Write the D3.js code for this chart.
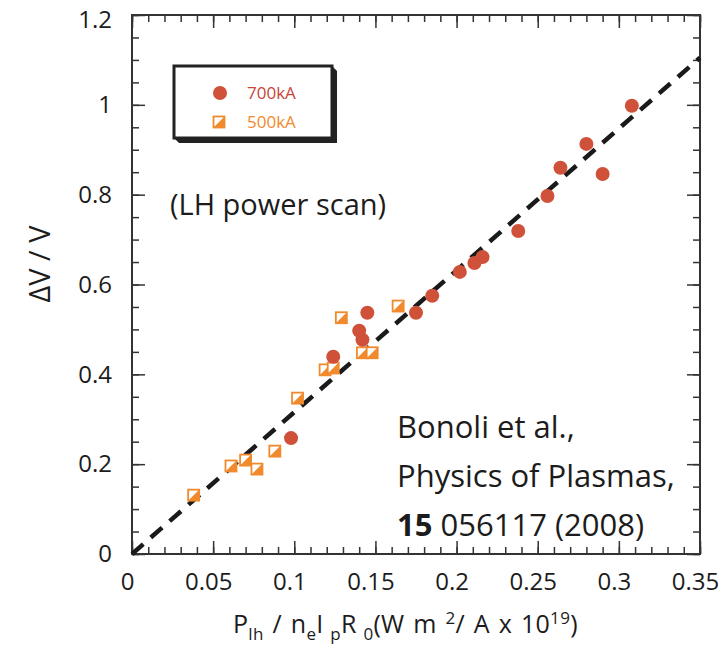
<!DOCTYPE html>
<html>
<head>
<meta charset="utf-8">
<script src="https://cdn.jsdelivr.net/npm/d3@7"></script>
<style>
  html, body { margin: 0; padding: 0; background: #fff; }
  svg { display: block; font-family: "Open Sans", "Noto Sans", sans-serif; }
</style>
</head>
<body>
<div id="chart"></div>
<script>
// 700kA shots (circles)
const ka700X = [0.308, 0.280, 0.290, 0.264, 0.256, 0.238, 0.216, 0.211, 0.202, 0.185, 0.175, 0.145, 0.140, 0.142, 0.124, 0.098];
const ka700Y = [0.998, 0.913, 0.846, 0.860, 0.797, 0.719, 0.661, 0.648, 0.628, 0.575, 0.537, 0.537, 0.497, 0.477, 0.439, 0.258];
// 500kA shots (squares)
const ka500X = [0.129, 0.164, 0.142, 0.148, 0.119, 0.124, 0.102, 0.088, 0.070, 0.061, 0.077, 0.038];
const ka500Y = [0.526, 0.552, 0.448, 0.448, 0.410, 0.414, 0.347, 0.229, 0.209, 0.196, 0.189, 0.131];
// dashed fit line end points
const fitX = [0, 0.35];
const fitY = [0, 1.105];
const xTicks = [0, 0.05, 0.1, 0.15, 0.2, 0.25, 0.3, 0.35];
const yTicks = [0, 0.2, 0.4, 0.6, 0.8, 1, 1.2];

const W = 719, H = 653;
const m = { top: 15, right: 19, bottom: 99, left: 132 };
const w = W - m.left - m.right, h = H - m.top - m.bottom;
const RED = '#d0513a', ORANGE = '#f08a2c', INK = '#1c1c1c';

const svg = d3.select('#chart').append('svg').attr('width', W).attr('height', H);
svg.append('rect').attr('width', W).attr('height', H).attr('fill', '#fff');
const g = svg.append('g').attr('transform', `translate(${m.left},${m.top})`);

const x = d3.scaleLinear().domain([0, 0.35]).range([0, w]);
const y = d3.scaleLinear().domain([0, 1.2]).range([h, 0]);

const xMinor = d3.range(0, 36).map(i => i / 100);
const yMinor = d3.range(0, 25).map(i => i / 20);
const fmtX = d => d === 0 ? '0' : String(+d.toFixed(2));

function styleAxis(sel) {
  sel.select('.domain').remove();
  sel.selectAll('.tick line').attr('stroke', '#333').attr('stroke-width', 1.5);
}

// minor ticks, all four sides, pointing in
g.append('g').attr('transform', `translate(0,${h})`)
  .call(d3.axisBottom(x).tickValues(xMinor).tickSize(-7).tickFormat('')).call(styleAxis);
g.append('g')
  .call(d3.axisTop(x).tickValues(xMinor).tickSize(-7).tickFormat('')).call(styleAxis);
g.append('g')
  .call(d3.axisLeft(y).tickValues(yMinor).tickSize(-7).tickFormat('')).call(styleAxis);
g.append('g').attr('transform', `translate(${w},0)`)
  .call(d3.axisRight(y).tickValues(yMinor).tickSize(-7).tickFormat('')).call(styleAxis);

// major ticks
g.append('g').attr('transform', `translate(0,${h})`)
  .call(d3.axisBottom(x).tickValues(xTicks).tickSize(-13).tickPadding(19).tickFormat(fmtX))
  .call(styleAxis)
  .selectAll('text').attr('fill', INK).attr('font-size', '24px').attr('dx', -5)
  .attr('font-family', '"Open Sans", sans-serif');
g.append('g')
  .call(d3.axisTop(x).tickValues(xTicks).tickSize(-13).tickFormat('')).call(styleAxis);
g.append('g')
  .call(d3.axisLeft(y).tickValues(yTicks).tickSize(-13).tickPadding(20).tickFormat(d => String(d)))
  .call(styleAxis)
  .selectAll('text').attr('fill', INK).attr('font-size', '24px')
  .attr('font-family', '"Open Sans", sans-serif')
  .attr('dy', d => d === 1.2 ? '0.5em' : '0.32em');
g.append('g').attr('transform', `translate(${w},0)`)
  .call(d3.axisRight(y).tickValues(yTicks).tickSize(-13).tickFormat('')).call(styleAxis);

// frame
g.append('rect').attr('width', w).attr('height', h)
  .attr('fill', 'none').attr('stroke', '#333').attr('stroke-width', 2);

// fit line
const fit = fitX.map((v, i) => [v, fitY[i]]);
g.append('path').datum(fit)
  .attr('d', d3.line().x(d => x(d[0])).y(d => y(d[1])))
  .attr('fill', 'none').attr('stroke', '#1a1a1a').attr('stroke-width', 4.5)
  .attr('stroke-dasharray', '15,10');

// squares: orange outline, lower-right half filled
const sq = 11;
function square(sel) {
  sel.append('rect').attr('x', -sq / 2).attr('y', -sq / 2).attr('width', sq).attr('height', sq)
    .attr('fill', '#fff').attr('stroke', ORANGE).attr('stroke-width', 1.8);
  sel.append('path')
    .attr('d', `M${sq / 2},${-sq / 2}L${sq / 2},${sq / 2}L${-sq / 2},${sq / 2}Z`)
    .attr('fill', ORANGE);
}
const d500 = ka500X.map((v, i) => [v, ka500Y[i]]);
g.selectAll('.sq').data(d500).join('g').attr('class', 'sq')
  .attr('transform', d => `translate(${x(d[0])},${y(d[1])})`)
  .call(square);

const d700 = ka700X.map((v, i) => [v, ka700Y[i]]);
g.selectAll('.dot').data(d700).join('circle').attr('class', 'dot')
  .attr('cx', d => x(d[0])).attr('cy', d => y(d[1])).attr('r', 7)
  .attr('fill', RED);

// legend
const L = { x: 174, y: 66, w: 158, h: 72 };
svg.append('path')
  .attr('d', `M${L.x + L.w},${L.y}l5,5v${L.h}h${-L.w}l-5,-5Z`).attr('fill', '#222');
svg.append('rect').attr('x', L.x).attr('y', L.y).attr('width', L.w).attr('height', L.h)
  .attr('fill', '#fff').attr('stroke', '#222').attr('stroke-width', 3);
svg.append('circle').attr('cx', 220).attr('cy', 93).attr('r', 7).attr('fill', RED);
svg.append('g').attr('transform', 'translate(219,122)').call(square);
svg.append('text').attr('x', 247).attr('y', 99).attr('font-size', '17px').attr('fill', '#c8443a').text('700kA');
svg.append('text').attr('x', 247).attr('y', 128).attr('font-size', '17px').attr('fill', ORANGE).text('500kA');

// annotation
svg.append('text').attr('x', 170).attr('y', 215).attr('font-size', '29px').attr('fill', INK)
  .text('(LH power scan)');
const cite = svg.append('text').attr('font-size', '31px').attr('fill', INK);
cite.append('tspan').attr('x', 397).attr('y', 438).text('Bonoli et al.,');
cite.append('tspan').attr('x', 397).attr('y', 487).text('Physics of Plasmas,');
cite.append('tspan').attr('x', 397).attr('y', 536).attr('font-weight', 'bold').text('15');
cite.append('tspan').text(' 056117 (2008)');

// y title
svg.append('text').attr('transform', 'translate(50,264) rotate(-90)')
  .attr('text-anchor', 'middle').attr('font-size', '29px').attr('fill', INK)
  .text('ΔV / V');

// x title
const xt = svg.append('text').attr('x', 233).attr('y', 633).attr('font-size', '25px')
  .attr('word-spacing', '2px').attr('letter-spacing', '0.3px').attr('fill', INK);
const sub = (t, dy) => xt.append('tspan').attr('font-size', '17px').attr('dy', dy).text(t);
const main = (t, dy) => xt.append('tspan').attr('dy', dy).text(t);
main('P', 0); sub('lh', 7);
main(' / n', -7); sub('e', 7);
main('I', -7); sub(' p', 7);
main('R', -7); sub(' 0', 7);
main('(W m ', -7); sub('2', -9);
main('/ A x  10', 9); sub('19', -9);
main(')', 9);
</script>
</body>
</html>
